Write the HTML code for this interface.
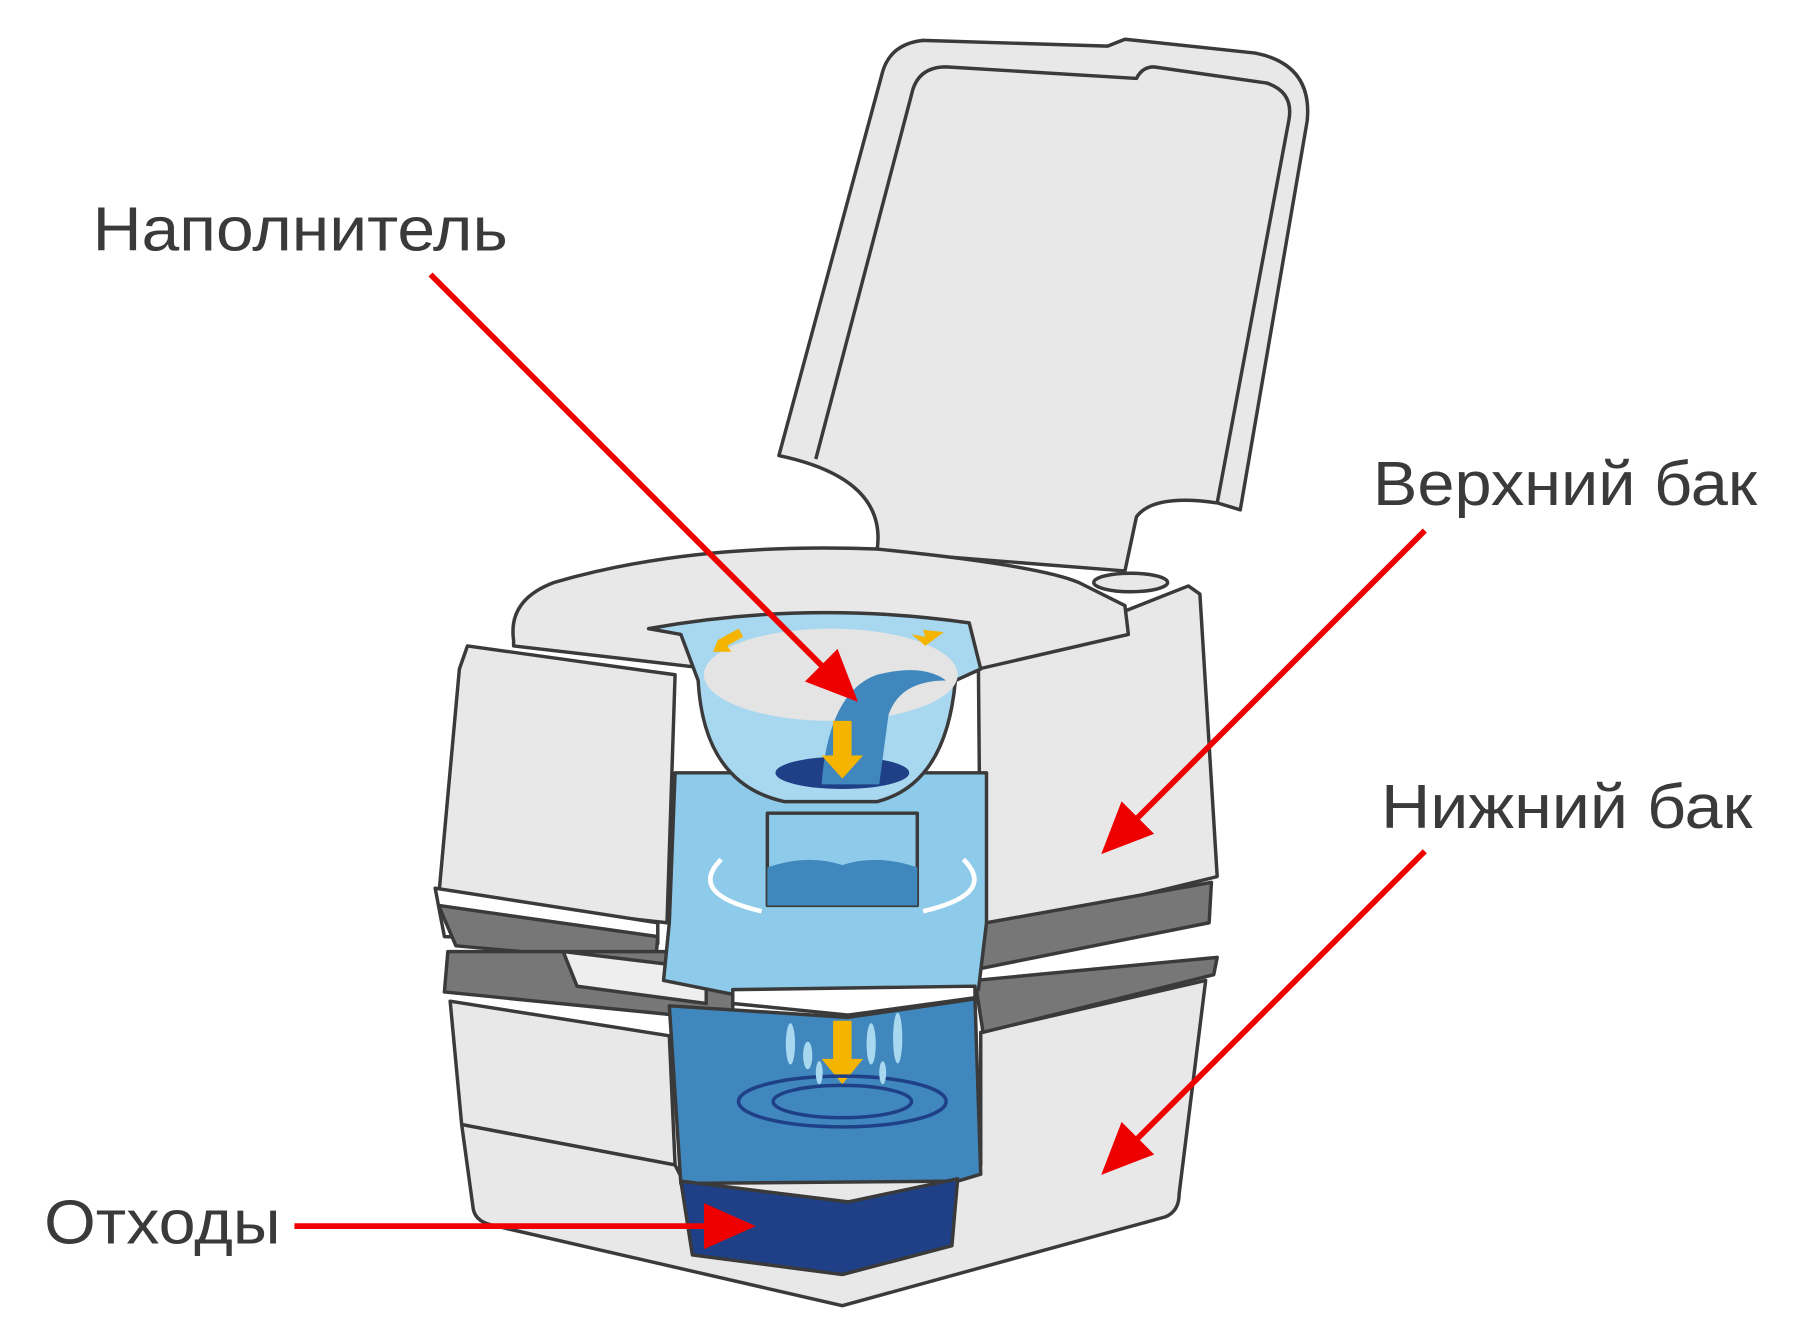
<!DOCTYPE html>
<html><head><meta charset="utf-8"><style>
html,body{margin:0;padding:0;background:#fff;}
svg{display:block;}
text{font-family:"Liberation Sans","DejaVu Sans",sans-serif;fill:#3a3a3a;}
</style></head><body>
<svg width="1800" height="1338" viewBox="0 0 1560 1160" xmlns="http://www.w3.org/2000/svg">
<defs>
<marker id="ah" markerWidth="10" markerHeight="10" refX="8" refY="5" orient="auto" markerUnits="strokeWidth">
<path d="M0,1 L9,5 L0,9 Z" fill="#ee0000"/></marker>
</defs>
<g stroke="#3a3a3a" stroke-width="3" stroke-linejoin="round" fill="#e8e8e8">
<path d="M675,395 L765,62 Q772,38 800,35 L960,40 L975,34 L1088,46 Q1138,56 1133,105 L1075,442 L1055,436 Q1000,428 985,448 L975,495 L760,478 Q770,415 675,395 Z"/>
<path d="M707,398 L790,82 Q795,58 820,58 L985,68 Q990,58 1000,58 L1098,72 Q1122,80 1117,105 L1055,436" fill="none"/>
<path d="M390,868 L580,898 L585,1010 L400,975 Z"/>
<path d="M400,975 L410,1048 Q412,1060 430,1063 L730,1132 L1010,1055 Q1022,1050 1022,1035 L1045,850 L850,895 L850,1010 L830,1020 L590,1020 L585,1010 Z"/>
<path d="M405,560 L585,585 L578,800 L380,778 L398,580 Z"/>
<path d="M848,580 L1030,508 L1040,515 L1055,760 L850,810 Z"/>
<path d="M445,555 Q440,520 480,505 Q600,470 760,476 Q900,490 935,505 L975,525 L978,550 L848,580 L600,578 L445,560 Z"/>
<path d="M377,770 L570,800 L570,818 L385,812 Z" fill="#fff"/>
<path d="M380,785 L570,812 L568,835 L395,820 Z" fill="#777"/>
<path d="M388,825 L635,825 L635,885 L385,860 Z" fill="#777"/>
<path d="M488,825 L612,840 L612,870 L500,855 Z" fill="#eee"/>
<path d="M855,800 L1050,765 L1048,800 L848,840 Z" fill="#777"/>
<path d="M845,850 L1055,830 L1052,845 L852,895 Z" fill="#777"/>
<path d="M585,670 L855,670 L855,800 L848,858 L735,868 L635,862 L575,850 L580,800 Z" fill="#8ecbea"/>
<path d="M635,858 L845,855 L845,865 L735,880 L635,870 Z" fill="#fff"/>
<path d="M580,872 L735,882 L845,866 L850,1018 L830,1024 L590,1026 Z" fill="#3f87bd"/>
<path d="M590,1024 L735,1042 L830,1022 L825,1080 L730,1105 L600,1088 Z" fill="#1f3f86"/>
<path d="M562,545 Q700,520 840,540 L850,580 L828,590 Q820,680 760,695 L680,695 Q610,680 605,590 L590,550 Z" fill="#a8d7f0"/>
<ellipse cx="720" cy="585" rx="110" ry="40" fill="#e4e4e4" stroke="none"/>
<ellipse cx="730" cy="670" rx="58" ry="14" fill="#1f3f86" stroke="none"/>
<path d="M665,705 L795,705 L795,785 L665,785 Z" fill="#8ecbea"/>
<path d="M665,752 Q700,740 730,750 Q760,740 795,752 L795,785 L665,785 Z" fill="#3f87bd" stroke="none"/>
<path d="M712,680 Q718,600 760,585 Q800,575 820,590 Q780,590 770,620 L762,680 Z" fill="#3f87bd" stroke="none"/>
<ellipse cx="980" cy="505" rx="32" ry="8" fill="#e8e8e8"/>
</g>
<g fill="#f5b400">
<path d="M722,625 L738,625 L738,655 L748,655 L730,675 L712,655 L722,655 Z"/>
<path d="M722,885 L738,885 L738,918 L748,918 L730,940 L712,918 L722,918 Z"/>
<path d="M622,555 L640,545 L644,552 L630,560 L634,565 L618,565 Z"/>
<path d="M818,548 L800,546 L802,552 L790,550 L802,560 Z"/>
</g>
<g stroke="#fff" stroke-width="4" fill="none">
<path d="M625,745 Q595,775 660,790"/><path d="M835,745 Q865,775 800,790"/>
</g>
<g stroke="#1f3f86" stroke-width="3" fill="none">
<ellipse cx="730" cy="955" rx="90" ry="22"/><ellipse cx="730" cy="955" rx="60" ry="14"/>
</g>
<g fill="#a8d7f0">
<ellipse cx="685" cy="905" rx="4" ry="18"/><ellipse cx="700" cy="915" rx="4" ry="12"/>
<ellipse cx="755" cy="905" rx="4" ry="18"/><ellipse cx="778" cy="900" rx="4" ry="22"/>
<ellipse cx="765" cy="930" rx="3" ry="10"/><ellipse cx="710" cy="930" rx="3" ry="10"/>
</g>
<g stroke="#ee0000" stroke-width="5" fill="none" marker-end="url(#ah)">
<line x1="373" y1="238" x2="740" y2="605"/>
<line x1="1235" y1="460" x2="958" y2="737"/>
<line x1="1235" y1="738" x2="958" y2="1015"/>
<line x1="255" y1="1063" x2="650" y2="1063"/>
</g>
<text x="80" y="217" font-size="54" textLength="360" lengthAdjust="spacingAndGlyphs">Наполнитель</text>
<text x="1190" y="438" font-size="54" textLength="333" lengthAdjust="spacingAndGlyphs">Верхний бак</text>
<text x="1197" y="718" font-size="54" textLength="322" lengthAdjust="spacingAndGlyphs">Нижний бак</text>
<text x="38" y="1078" font-size="54" textLength="205" lengthAdjust="spacingAndGlyphs">Отходы</text>
</svg>
</body></html>
